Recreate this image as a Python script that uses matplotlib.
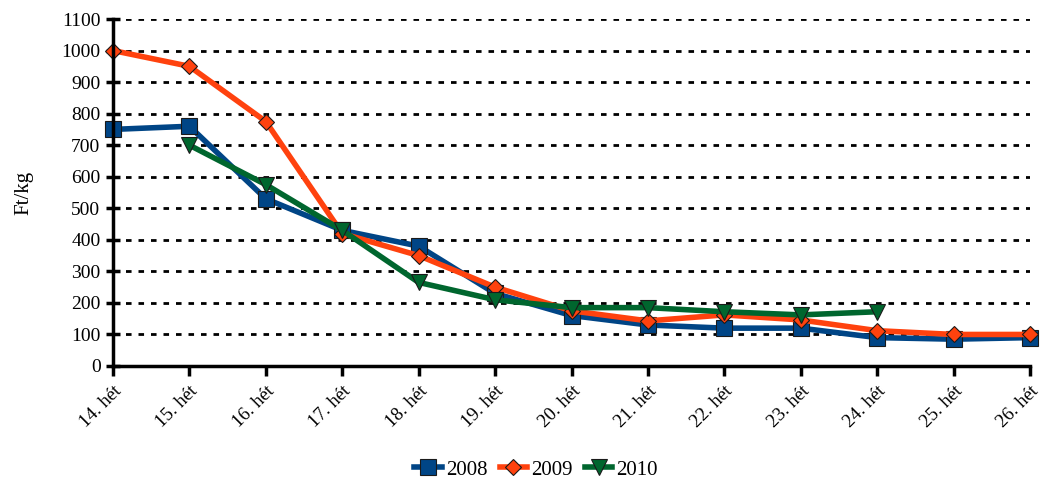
import matplotlib.pyplot as plt

weeks = ['14. hét', '15. hét', '16. hét', '17. hét', '18. hét', '19. hét', '20. hét',
         '21. hét', '22. hét', '23. hét', '24. hét', '25. hét', '26. hét']
y2008 = [750, 760, 530, 430, 380, 230, 160, 130, 120, 120, 90, 85, 90]
y2009 = [1000, 950, 775, 420, 350, 250, 175, 143, 162, 146, 112, 100, 100]
y2010 = [None, 700, 575, 430, 265, 210, 185, 185, 172, 162, 172, None, None]

plt.rcParams['font.family'] = ['Liberation Serif', 'DejaVu Serif']

fig = plt.figure(figsize=(10.41, 4.84), dpi=100)
ax = fig.add_axes([113 / 1041, 1 - 366 / 484, (1030 - 113) / 1041, (366 - 19) / 484])

x = list(range(len(weeks)))


def clean(vals):
    return [float('nan') if v is None else v for v in vals]


ax.plot(x, clean(y2008), color='#004586', linewidth=4, marker='s', markersize=11,
        markeredgecolor='#1a1a1a', markeredgewidth=0.8, label='2008', zorder=3,
        clip_on=False)
ax.plot(x, clean(y2009), color='#ff420e', linewidth=4, marker='D', markersize=8,
        markeredgecolor='#1a1a1a', markeredgewidth=0.8, label='2009', zorder=4,
        clip_on=False)
ax.plot(x, clean(y2010), color='#00662e', linewidth=4, marker='v', markersize=11,
        markeredgecolor='#1a1a1a', markeredgewidth=0.8, label='2010', zorder=5,
        clip_on=False)

ax.set_xlim(0, len(weeks) - 1)
ax.set_ylim(0, 1100)
ax.set_yticks(range(0, 1101, 100))
ax.set_xticks(x)
ax.set_xticklabels(weeks, rotation=45, ha='right', rotation_mode='anchor')
ax.tick_params(axis='y', direction='inout', length=10, width=2.5, labelsize=14, pad=4)
ax.tick_params(axis='x', direction='out', length=7, width=2.5, labelsize=13.5, pad=5)
ax.yaxis.grid(True, color='black', linestyle=(0, (2, 2.5)), linewidth=2)
ax.set_axisbelow(True)
for side in ['top', 'right']:
    ax.spines[side].set_visible(False)
for side in ['left', 'bottom']:
    ax.spines[side].set_linewidth(2.5)
    ax.spines[side].set_zorder(6)
ax.set_ylabel('Ft/kg', fontsize=15, labelpad=20)

fig.legend(loc='lower center', bbox_to_anchor=(0.515, -0.03), ncol=3, frameon=False,
           fontsize=15, handlelength=1.3, columnspacing=0.6, handletextpad=0.2)

fig.savefig('out.png', dpi=100)
